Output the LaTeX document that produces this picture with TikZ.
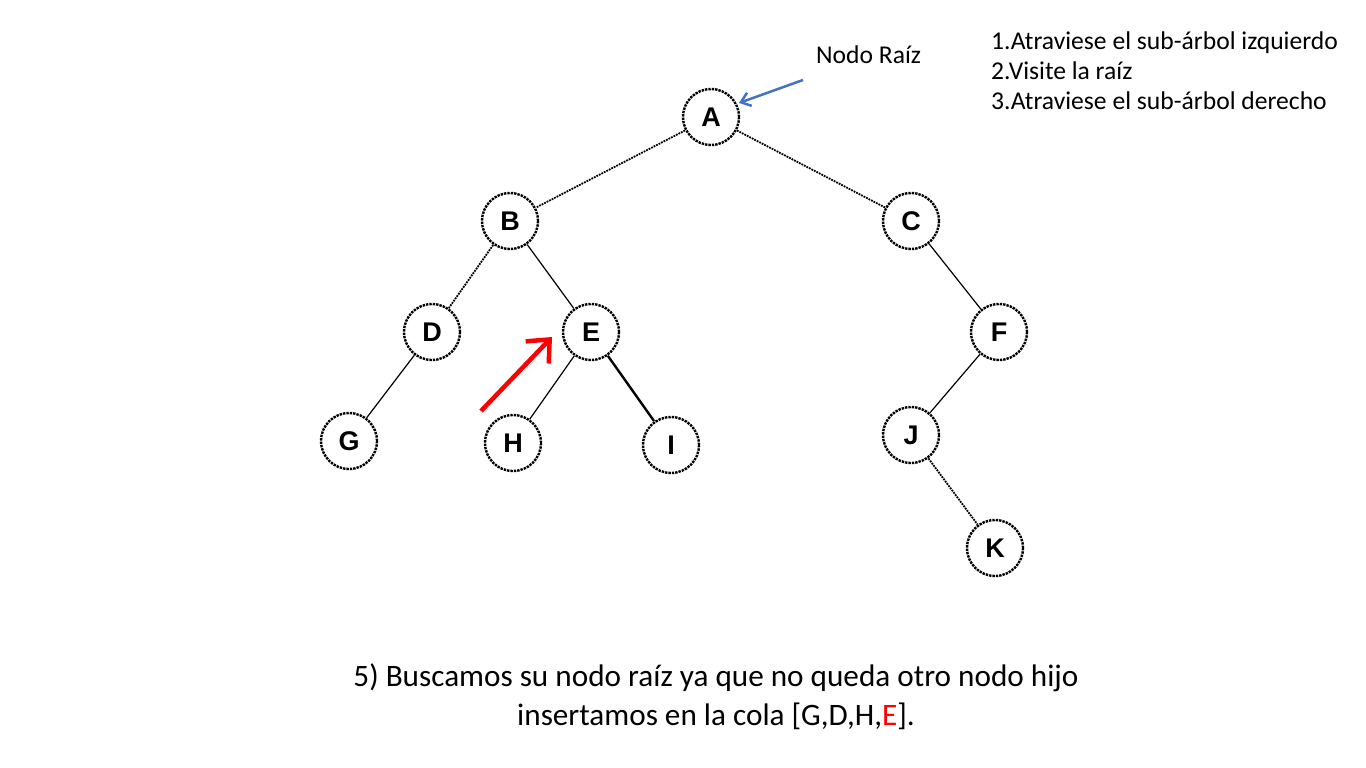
\documentclass[tikz,border=0pt]{standalone}
\usepackage{fontspec}
\setmainfont{Carlito}
\newfontfamily\nodefont{Liberation Sans}
\usetikzlibrary{arrows.meta}
\definecolor{arrowblue}{RGB}{68,114,196}
\begin{document}
\begin{tikzpicture}[x=1pt,y=-1pt,
  tnode/.style={circle,draw=black,line width=2.4pt,densely dotted,minimum size=56pt,inner sep=0pt,font=\nodefont\bfseries\fontsize{27}{27}\selectfont},
  edgeA/.style={line width=1.8pt,densely dotted},
  edgeB/.style={line width=1.2pt},
  edgeC/.style={line width=2.4pt},
  lbl/.style={font=\fontsize{25.6}{30}\selectfont,inner sep=0pt},
  caption/.style={font=\fontsize{31.2}{40}\selectfont,align=center,inner sep=0pt}]
\useasboundingbox (0,0) rectangle (1366,768);
\fill[white] (0,0) rectangle (1366,768);
\node[tnode] (A) at (711,117) {A};
\node[tnode] (B) at (510,221) {B};
\node[tnode] (C) at (911,221) {C};
\node[tnode] (D) at (432,332) {D};
\node[tnode] (E) at (591,332) {E};
\node[tnode] (F) at (999,332) {F};
\node[tnode] (G) at (349,441) {G};
\node[tnode] (H) at (513,443) {H};
\node[tnode] (I) at (671,445) {I};
\node[tnode] (J) at (911,435) {J};
\node[tnode] (K) at (995,548) {K};
\draw[edgeA] (A) -- (B);
\draw[edgeA] (A) -- (C);
\draw[edgeA] (B) -- (D);
\draw[edgeB] (B) -- (E);
\draw[edgeB] (D) -- (G);
\draw[edgeB] (E) -- (H);
\draw[edgeC] (E) -- (I);
\draw[edgeB] (C) -- (F);
\draw[edgeB] (F) -- (J);
\draw[edgeA] (J) -- (K);
\coordinate (rs) at (481,411);
\coordinate (re) at (552,337);
\draw[red,line width=4.5pt,-{Straight Barb[length=18pt,width=32pt,line width=4.5pt]}] (rs) -- (re);
\coordinate (bs) at (803,80);
\coordinate (be) at (739,103);
\draw[arrowblue,line width=2.5pt,-{Straight Barb[length=9pt,width=14pt,line width=2.5pt]}] (bs) -- (be);
\node[lbl,anchor=base west] (raiz) at (816,64) {Nodo Raíz};
\node[lbl,anchor=base west] (s1) at (991,50) {1.Atraviese el sub-árbol izquierdo};
\node[lbl,anchor=base west] (s2) at (991,80) {2.Visite la raíz};
\node[lbl,anchor=base west] (s3) at (991,110) {3.Atraviese el sub-árbol derecho};
\node[caption,anchor=base] (cap1) at (716,686) {5) Buscamos su nodo raíz ya que no queda otro nodo hijo};
\node[caption,anchor=base] (cap2) at (716,725) {insertamos en la cola [G,D,H,\textcolor{red}{E}].};
\end{tikzpicture}
\end{document}
